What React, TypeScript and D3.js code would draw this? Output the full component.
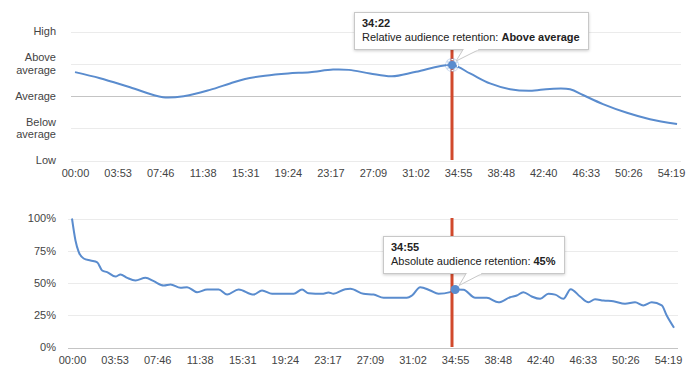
import React, { useEffect, useRef } from 'react'
import * as d3 from 'd3'

const width = 700
const height = 385

const tickLabels = ['00:00', '03:53', '07:46', '11:38', '15:31', '19:24', '23:17', '27:09', '31:02', '34:55', '38:48', '42:40', '46:33', '50:26', '54:19']
const relativeLevels = ['Low', 'Below average', 'Average', 'Above average', 'High']
const percentTicks = [0, 25, 50, 75, 100]

// relative retention, seconds -> level index (0 = Low .. 4 = High)
const relativeTimes = [0, 137, 301, 481, 601, 738, 848, 930, 1039, 1165, 1285, 1411, 1498, 1613, 1733, 1865, 2062, 2160, 2269, 2379, 2488, 2597, 2707, 2778, 2887, 3018, 3144, 3292]
const relativeValues = [2.74, 2.55, 2.27, 1.96, 2.0, 2.19, 2.39, 2.53, 2.63, 2.7, 2.74, 2.82, 2.81, 2.7, 2.61, 2.75, 2.96, 2.7, 2.39, 2.21, 2.16, 2.22, 2.21, 2.03, 1.75, 1.48, 1.28, 1.13]

// absolute retention, seconds -> percent
const absoluteTimes = [0, 19, 37, 64, 101, 138, 165, 192, 238, 265, 302, 347, 402, 447, 502, 539, 593, 629, 684, 739, 802, 848, 911, 993, 1039, 1094, 1212, 1258, 1294, 1367, 1403, 1430, 1494, 1522, 1594, 1649, 1704, 1831, 1859, 1904, 1959, 2004, 2068, 2095, 2141, 2205, 2268, 2332, 2396, 2432, 2468, 2514, 2560, 2605, 2642, 2687, 2727, 2778, 2824, 2860, 2906, 2960, 3024, 3079, 3124, 3170, 3225, 3252, 3292]
const absoluteValues = [100, 83, 74, 69, 67.4, 66, 59.7, 58.4, 55, 56.6, 54, 52, 54, 51.4, 48, 48.8, 46.3, 46.8, 42.9, 45, 45, 41, 45, 41, 44.2, 41.6, 41.6, 45, 42, 41.6, 42.6, 41.6, 45.2, 45.5, 41.6, 41, 38.5, 38.5, 40.3, 46.8, 44.2, 41.6, 42.9, 45, 44.7, 38.5, 38.5, 35, 39, 40.3, 42.9, 39.5, 37.7, 41.6, 41, 37.7, 45.2, 39.5, 35, 37.4, 36.4, 35.9, 33.9, 35, 32.6, 35, 32.6, 24.8, 15.3]

const playhead = '34:22'
const relativeTip = { time: '34:22', label: 'Relative audience retention: ', value: 'Above average' }
const absoluteTip = { time: '34:55', label: 'Absolute audience retention: ', value: '45%' }

const lineColor = '#5a8cce'
const redColor = '#d1492c'
const textColor = '#444'
const font = '"Liberation Sans", Arial, sans-serif'

const toSec = (s: string) => {
  const [m, ss] = s.split(':')
  return +m * 60 + +ss
}

function drawTip(svg: any, px: number, py: number, boxX: number, boxY: number, tip: any) {
  const g = svg.append('g').attr('font-family', font).attr('font-size', 11)
  const rect = g.append('rect')
  const tail = g.append('path')
  const seam = g.append('line')
  const title = g.append('text')
    .attr('x', boxX + 8).attr('y', boxY + 15)
    .attr('font-weight', 'bold').attr('fill', '#222')
    .text(tip.time)
  const line = g.append('text')
    .attr('x', boxX + 8).attr('y', boxY + 29).attr('fill', '#222')
  line.append('tspan').text(tip.label)
  line.append('tspan').attr('font-weight', 'bold').text(tip.value)

  const tw = Math.max((line.node() as any).getComputedTextLength(), (title.node() as any).getComputedTextLength())
  const boxW = Math.round(tw + 16)
  const boxH = 37
  rect.attr('x', boxX + 0.5).attr('y', boxY + 0.5).attr('width', boxW).attr('height', boxH)
    .attr('fill', '#fff').attr('stroke', '#c8c8c8').attr('filter', 'url(#tipShadow)')

  const by = boxY + boxH + 0.5
  const tipX = px + 4, tipY = py - 4
  tail.attr('d', `M${px + 11},${by} L${tipX},${tipY} L${px + 27},${by}`)
    .attr('fill', '#fff').attr('stroke', '#c8c8c8')
  seam.attr('x1', px + 12).attr('x2', px + 26).attr('y1', by).attr('y2', by)
    .attr('stroke', '#fff').attr('stroke-width', 1.5)
}

export default function App() {
  const svgRef = useRef<SVGSVGElement>(null)

  useEffect(() => {
    const svg = d3.select(svgRef.current)
    svg.selectAll('*').remove()

    svg.append('defs').append('filter').attr('id', 'tipShadow')
      .attr('x', '-10%').attr('y', '-20%').attr('width', '120%').attr('height', '160%')
      .append('feDropShadow').attr('dx', 0).attr('dy', 1).attr('stdDeviation', 1.5)
      .attr('flood-color', '#000').attr('flood-opacity', 0.2)

    const duration = toSec(tickLabels[tickLabels.length - 1])
    const tickVals = tickLabels.map(toSec)

    const xTop = d3.scaleLinear().domain([0, duration]).range([75, 671])
    const yTop = d3.scaleLinear().domain([0, 4]).range([160.5, 31.5])
    const xBot = d3.scaleLinear().domain([0, duration]).range([72, 668])
    const yBot = d3.scaleLinear().domain([0, 100]).range([347.5, 218.5])

    // ---- top chart: relative retention
    const top = svg.append('g')
    top.selectAll('line.grid').data(relativeLevels).enter()
      .append('line')
      .attr('x1', 71).attr('x2', 681)
      .attr('y1', (d, i) => Math.round(yTop(i)) + 0.5)
      .attr('y2', (d, i) => Math.round(yTop(i)) + 0.5)
      .attr('stroke', d => d === 'Average' ? '#c4c4c4' : '#ebebeb')

    const yLabels = top.append('g').attr('font-family', font).attr('font-size', 11).attr('fill', textColor).attr('text-anchor', 'end')
    relativeLevels.forEach((lvl, i) => {
      const words = lvl.split(' ')
      const t = yLabels.append('text').attr('x', 56)
      if (words.length === 1) {
        t.attr('y', yTop(i)).attr('dy', '0.35em').text(lvl)
      } else {
        t.append('tspan').attr('x', 56).attr('y', yTop(i) - 6.2).attr('dy', '0.35em').text(words[0])
        t.append('tspan').attr('x', 56).attr('y', yTop(i) + 6.2).attr('dy', '0.35em').text(words[1])
      }
    })

    top.append('g')
      .attr('transform', 'translate(0,160)')
      .call(d3.axisBottom(xTop).tickValues(tickVals).tickFormat((d, i) => tickLabels[i]).tickSize(0).tickPadding(9))
      .call(g => g.select('.domain').remove())
      .call(g => g.selectAll('text').attr('fill', textColor).attr('font-size', 11).attr('font-family', font))

    const relData = relativeTimes.map((t, i) => [t, relativeValues[i]] as [number, number])
    top.append('path')
      .datum(relData)
      .attr('fill', 'none').attr('stroke', lineColor).attr('stroke-width', 2)
      .attr('d', d3.line<[number, number]>().x(d => xTop(d[0])).y(d => yTop(d[1])).curve(d3.curveCatmullRom.alpha(0.5)))

    // ---- bottom chart: absolute retention
    const bot = svg.append('g')
    bot.selectAll('line.grid').data(percentTicks).enter()
      .append('line')
      .attr('x1', 68).attr('x2', 678)
      .attr('y1', d => Math.round(yBot(d)) + 0.5)
      .attr('y2', d => Math.round(yBot(d)) + 0.5)
      .attr('stroke', d => d === 0 ? '#c4c4c4' : '#ebebeb')

    bot.append('g').attr('font-family', font).attr('font-size', 11).attr('fill', textColor).attr('text-anchor', 'end')
      .selectAll('text').data(percentTicks).enter()
      .append('text')
      .attr('x', 56).attr('y', d => yBot(d)).attr('dy', '0.35em')
      .text(d => d + '%')

    bot.append('g')
      .attr('transform', 'translate(0,347)')
      .call(d3.axisBottom(xBot).tickValues(tickVals).tickFormat((d, i) => tickLabels[i]).tickSize(0).tickPadding(9))
      .call(g => g.select('.domain').remove())
      .call(g => g.selectAll('text').attr('fill', textColor).attr('font-size', 11).attr('font-family', font))

    const absData = absoluteTimes.map((t, i) => [t, absoluteValues[i]] as [number, number])
    bot.append('path')
      .datum(absData)
      .attr('fill', 'none').attr('stroke', lineColor).attr('stroke-width', 2)
      .attr('d', d3.line<[number, number]>().x(d => xBot(d[0])).y(d => yBot(d[1])).curve(d3.curveMonotoneX))

    // ---- playhead
    const phX = Math.round(xTop(toSec(playhead)))
    svg.append('line').attr('x1', phX).attr('x2', phX).attr('y1', 31).attr('y2', 160)
      .attr('stroke', redColor).attr('stroke-width', 3)
    svg.append('line').attr('x1', phX).attr('x2', phX).attr('y1', 218).attr('y2', 347)
      .attr('stroke', redColor).attr('stroke-width', 3)

    // ---- markers
    const rt = toSec(relativeTip.time)
    const rIdx = relativeTimes.indexOf(rt)
    const rpx = xTop(rt), rpy = yTop(relativeValues[rIdx])
    svg.append('circle').attr('cx', rpx).attr('cy', rpy).attr('r', 7).attr('fill', lineColor).attr('fill-opacity', 0.3)
    svg.append('circle').attr('cx', rpx).attr('cy', rpy).attr('r', 5.5).attr('fill', 'none').attr('stroke', '#fff').attr('stroke-width', 1.2).attr('stroke-dasharray', '2,1.5')
    svg.append('circle').attr('cx', rpx).attr('cy', rpy).attr('r', 4).attr('fill', lineColor)

    const at = toSec(absoluteTip.time)
    const aIdx = absoluteTimes.indexOf(at)
    const apx = xBot(at), apy = yBot(absoluteValues[aIdx])
    svg.append('circle').attr('cx', apx).attr('cy', apy).attr('r', 4.5).attr('fill', lineColor)

    // ---- tooltips
    drawTip(svg, rpx, rpy, Math.round(rpx) - 98, 12, relativeTip)
    drawTip(svg, apx, apy, Math.round(apx) - 72, 236, absoluteTip)
  }, [])

  return (
    <svg
      ref={svgRef}
      width={width}
      height={height}
      style={{ position: 'absolute', left: 0, top: 0, background: '#fff' }}
    />
  )
}
